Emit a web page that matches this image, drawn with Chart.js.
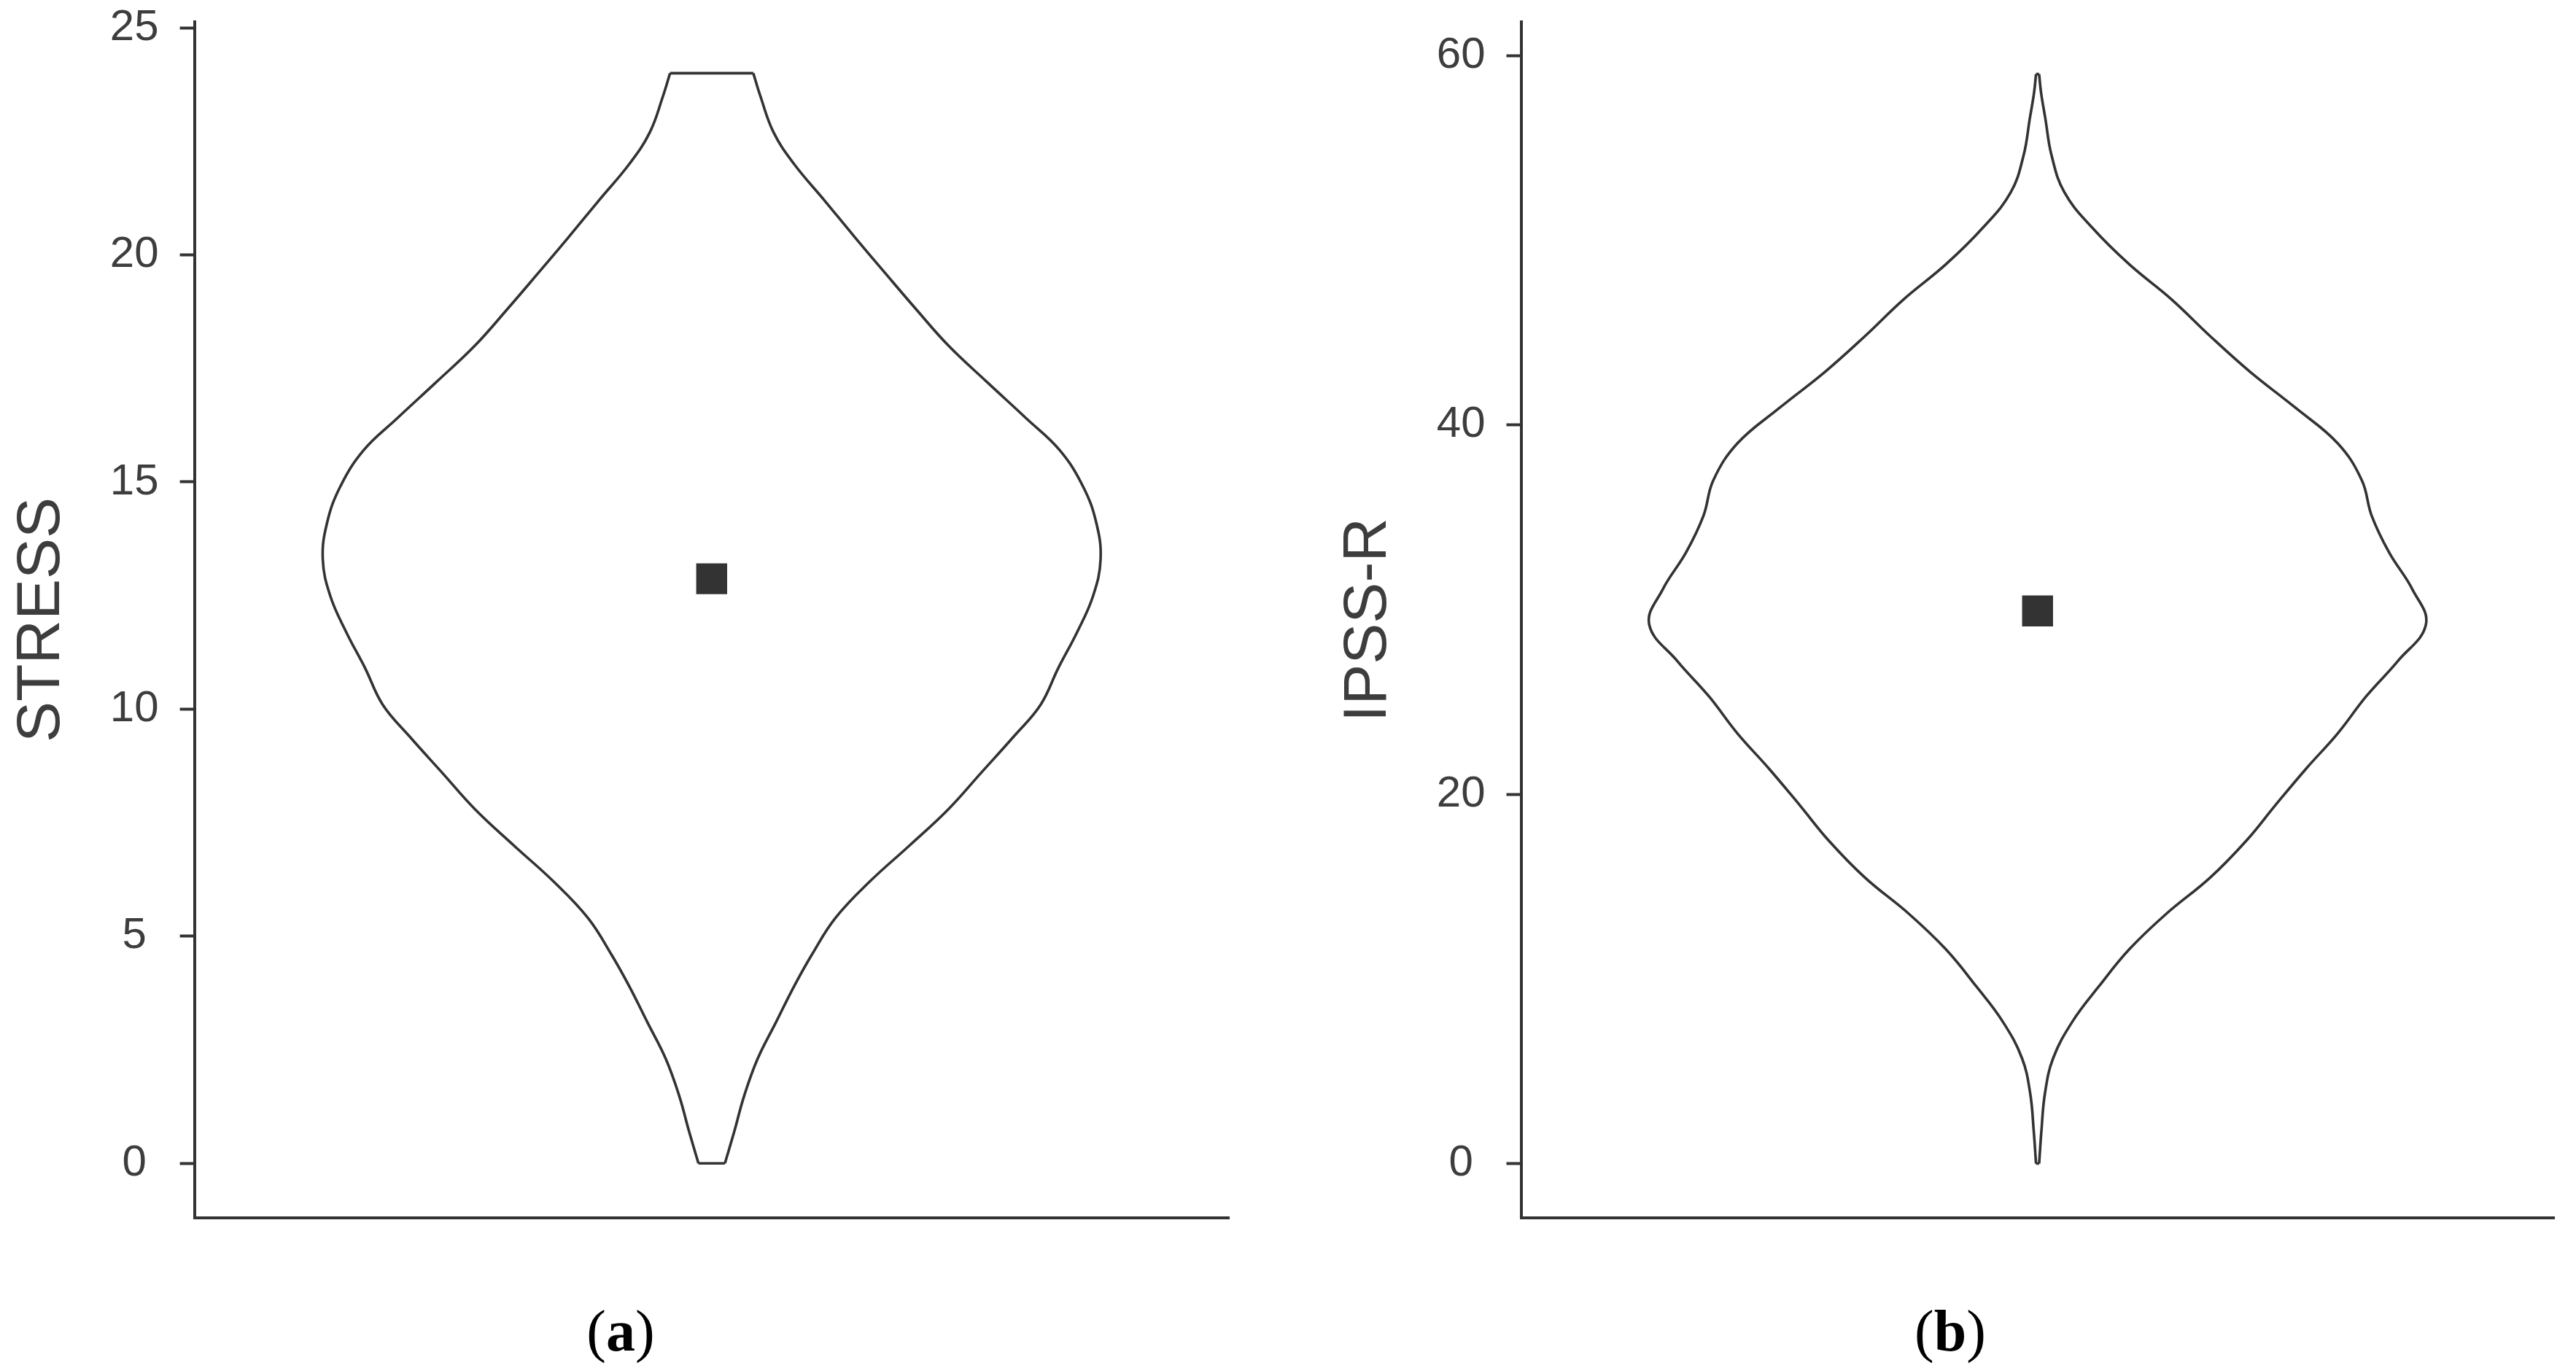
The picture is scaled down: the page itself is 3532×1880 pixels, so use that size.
<!DOCTYPE html>
<html>
<head>
<meta charset="utf-8">
<script src="https://cdn.jsdelivr.net/npm/chart.js@4.4.1/dist/chart.umd.min.js"></script>
<style>
  body { margin: 0; background: #fff; width: 3532px; height: 1880px; position: relative; overflow: hidden; }
  canvas { position: absolute; top: 0; }
  .cap { position: absolute; top: 1785px; transform: translateX(-50%); font: 80px/80px "Liberation Serif", serif; color: #000; white-space: nowrap; }
</style>
</head>
<body>
<canvas id="chartA" width="1720" height="1700" style="left:0"></canvas>
<canvas id="chartB" width="1752" height="1700" style="left:1780px"></canvas>
<div class="cap" style="left:851px">(<b>a</b>)</div>
<div class="cap" style="left:2674px">(<b>b</b>)</div>
<script>
// STRESS violin: score levels and relative half-width of the density
const stressLevels = [24, 23.5, 22.7, 22, 21.2, 20.4, 19.6, 18.8, 18, 17.2, 16.4, 15.7, 14.9, 14.1, 13.3, 12.5, 11.7, 10.9, 10.1, 9.4, 8.6, 7.8, 7, 6.2, 5.4, 4.6, 3.9, 3.1, 2.3, 1.5, 0.7, 0];
const stressDensity = [0.107, 0.125, 0.159, 0.212, 0.29, 0.367, 0.446, 0.526, 0.609, 0.708, 0.809, 0.895, 0.955, 0.989, 1, 0.981, 0.94, 0.891, 0.846, 0.777, 0.693, 0.609, 0.509, 0.406, 0.318, 0.258, 0.212, 0.165, 0.118, 0.084, 0.058, 0.034];
const stressMean = 12.87;
const stressTicks = [0, 5, 10, 15, 20, 25];

// IPSS-R violin
const ipssLevels = [59, 58, 56.6, 54.6, 52.6, 50.7, 48.7, 46.8, 44.8, 42.9, 40.9, 39, 37, 35.1, 33.1, 31.1, 29.2, 27.2, 25.3, 23.3, 21.4, 19.4, 17.5, 15.5, 13.5, 11.6, 9.6, 7.7, 5.7, 3.8, 1.8, 0];
const ipssDensity = [0.004, 0.009, 0.02, 0.036, 0.069, 0.14, 0.236, 0.345, 0.445, 0.546, 0.666, 0.773, 0.835, 0.86, 0.905, 0.965, 1, 0.927, 0.846, 0.773, 0.692, 0.612, 0.538, 0.445, 0.33, 0.236, 0.158, 0.09, 0.04, 0.019, 0.01, 0.004];
const ipssMean = 29.93;
const ipssTicks = [0, 20, 40, 60];

const lineColor = '#333333';
const textColor = '#3d3d3d';
const fontFamily = '"Liberation Sans", Arial, sans-serif';
const xSpan = 1.33;

function outline(points) {
  return { data: points, showLine: true, borderColor: lineColor, borderWidth: 3.6, pointRadius: 0, tension: 0.4, fill: false };
}

function violinDatasets(levels, density, mean) {
  const last = levels.length - 1;
  return [
    { data: [{ x: 0, y: mean }], pointStyle: 'rect', pointRadius: 30, backgroundColor: lineColor, borderWidth: 0 },
    outline(levels.map((v, i) => ({ x: -density[i], y: v }))),
    outline(levels.map((v, i) => ({ x: density[i], y: v }))),
    outline([{ x: -density[0], y: levels[0] }, { x: density[0], y: levels[0] }]),
    outline([{ x: -density[last], y: levels[last] }, { x: density[last], y: levels[last] }])
  ];
}

function makeChart(id, cfg) {
  return new Chart(document.getElementById(id), {
    type: 'scatter',
    data: { datasets: violinDatasets(cfg.levels, cfg.density, cfg.mean) },
    options: {
      responsive: false,
      animation: false,
      events: [],
      layout: { padding: cfg.padding },
      plugins: { legend: { display: false }, tooltip: { enabled: false } },
      scales: {
        x: {
          type: 'linear', min: -xSpan, max: xSpan,
          ticks: { display: false },
          grid: { drawOnChartArea: false, drawTicks: false },
          border: { display: true, color: lineColor, width: 4 },
          afterFit: s => { s.height = 0; }
        },
        y: {
          type: 'linear', min: cfg.yMin, max: cfg.yMax,
          afterBuildTicks: s => { s.ticks = cfg.ticks.map(v => ({ value: v })); },
          afterFit: s => { s.width = cfg.axisWidth; s.paddingTop = 0; s.paddingBottom = 0; },
          ticks: { font: { family: fontFamily, size: 60 }, color: textColor, padding: 29, crossAlign: 'center' },
          grid: { drawOnChartArea: false, drawTicks: true, tickLength: 20, tickWidth: 4, tickColor: lineColor },
          border: { display: true, color: lineColor, width: 4 },
          title: {
            display: true, text: cfg.title, color: textColor,
            font: { family: fontFamily, size: 84 },
            padding: { top: cfg.titlePad, bottom: 0 }
          }
        }
      }
    }
  });
}

makeChart('chartA', {
  levels: stressLevels, density: stressDensity, mean: stressMean, ticks: stressTicks,
  title: 'STRESS', yMin: -1.2, yMax: 25.13, axisWidth: 266.6, titlePad: 7.6,
  padding: { top: 28.7, right: 35, bottom: 28, left: 0 }
});

makeChart('chartB', {
  levels: ipssLevels, density: ipssDensity, mean: ipssMean, ticks: ipssTicks,
  title: 'IPSS-R', yMin: -2.94, yMax: 61.83, axisWidth: 305.5, titlePad: 46.6,
  padding: { top: 25.5, right: 27, bottom: 27, left: 0 }
});
</script>
</body>
</html>
